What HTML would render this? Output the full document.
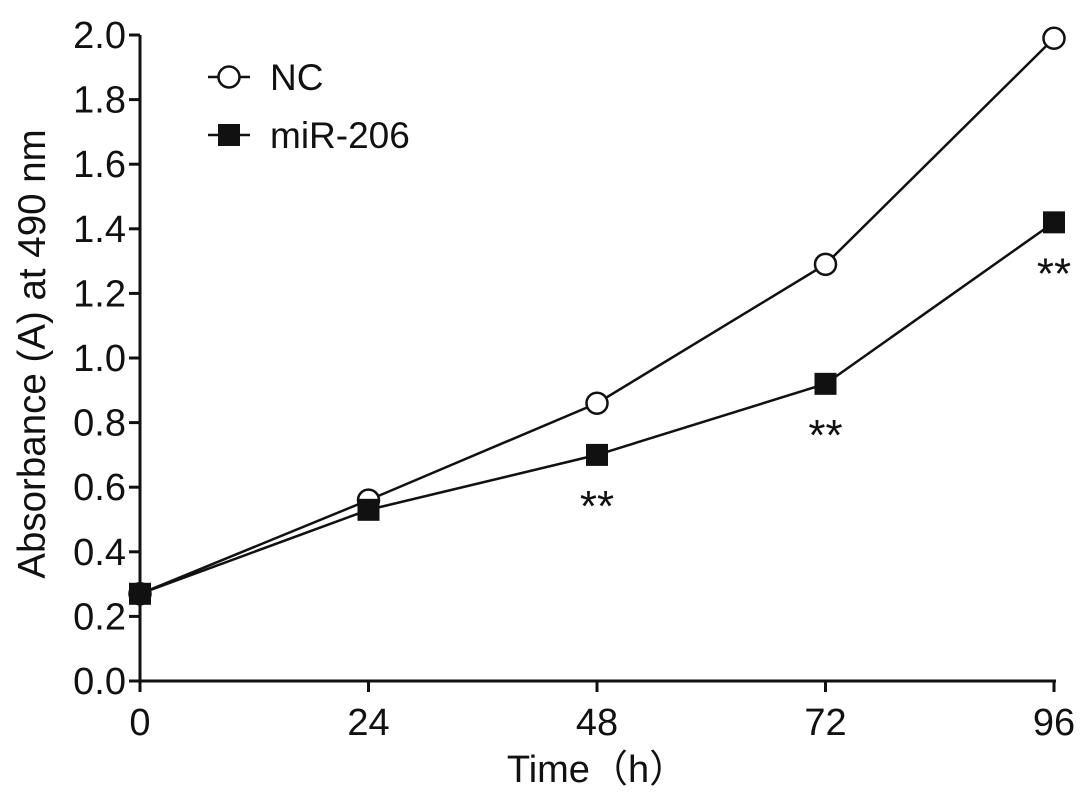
<!DOCTYPE html>
<html><head><meta charset="utf-8"><style>
body{margin:0;background:#fff;}
svg text{font-family:"Liberation Sans","Noto Sans CJK SC",sans-serif;fill:#111;}
</style></head><body>
<svg id="chart" width="1087" height="795">
</svg>
<script>
const xCats=[0,24,48,72,96];
const ncVals=[0.27,0.56,0.86,1.29,1.99];
const mirVals=[0.27,0.53,0.70,0.92,1.42];
const sig=[false,false,true,true,true];
const yTicks=[0,0.2,0.4,0.6,0.8,1.0,1.2,1.4,1.6,1.8,2.0];
const xTicks=[0,24,48,72,96];
const NS="http://www.w3.org/2000/svg";
const svg=document.getElementById('chart');
const X=v=>140+v*(1054-140)/96;
const Y=v=>681-v*(681-35)/2;
function mk(t,a,txt){const e=document.createElementNS(NS,t);for(const k in a)e.setAttribute(k,a[k]);if(txt!=null)e.textContent=txt;svg.appendChild(e);return e;}
let e;
e=mk('line',{x1:140,y1:Y(2),x2:140,y2:681,stroke:'#111','stroke-width':3});


e=mk('line',{x1:140,y1:681,x2:1056,y2:681,stroke:'#111','stroke-width':3});


yTicks.forEach(v=>{
 e=mk('line',{x1:129,y1:Y(v),x2:140,y2:Y(v),stroke:'#111','stroke-width':3});
 
 
 e=mk('text',{x:126,y:Y(v)+13,'text-anchor':'end','font-size':38},v.toFixed(1));
 
 
});
xTicks.forEach(v=>{
 e=mk('line',{x1:X(v),y1:681,x2:X(v),y2:692,stroke:'#111','stroke-width':3});
 
 
 e=mk('text',{x:X(v),y:735,'text-anchor':'middle','font-size':38},String(v));
 
 
});
e=mk('text',{x:597,y:782,'text-anchor':'middle','font-size':38},'Time（h）');


e=mk('text',{x:0,y:0,'text-anchor':'middle','font-size':38.5,transform:'translate(45,354) rotate(-90)'},'Absorbance (A) at 490 nm');


function path(vals){return vals.map((v,i)=>(i?'L':'M')+X(xCats[i])+' '+Y(v)).join(' ');}
e=mk('path',{d:path(ncVals),fill:'none',stroke:'#111','stroke-width':2.5});


e=mk('path',{d:path(mirVals),fill:'none',stroke:'#111','stroke-width':2.5});


ncVals.forEach((v,i)=>{
 e=mk('circle',{cx:X(xCats[i]),cy:Y(v),r:10.5,fill:'#fff',stroke:'#111','stroke-width':2.5});
 
 
});
mirVals.forEach((v,i)=>{
 e=mk('rect',{x:X(xCats[i])-11,y:Y(v)-11,width:22,height:22,fill:'#111'});
 
 
 if(sig[i]){
  e=mk('text',{x:X(xCats[i]),y:Y(v)+66,'text-anchor':'middle','font-size':44},'**');
  
  
 }
});
// legend
e=mk('line',{x1:208,y1:77,x2:250,y2:77,stroke:'#111','stroke-width':2.5});


e=mk('circle',{cx:229,cy:77,r:10.5,fill:'#fff',stroke:'#111','stroke-width':2.5});


e=mk('text',{x:270,y:90,'font-size':37},'NC');


e=mk('line',{x1:208,y1:135,x2:250,y2:135,stroke:'#111','stroke-width':2.5});


e=mk('rect',{x:218,y:124,width:22,height:22,fill:'#111'});


e=mk('text',{x:270,y:148,'font-size':37},'miR-206');


</script>
</body></html>
